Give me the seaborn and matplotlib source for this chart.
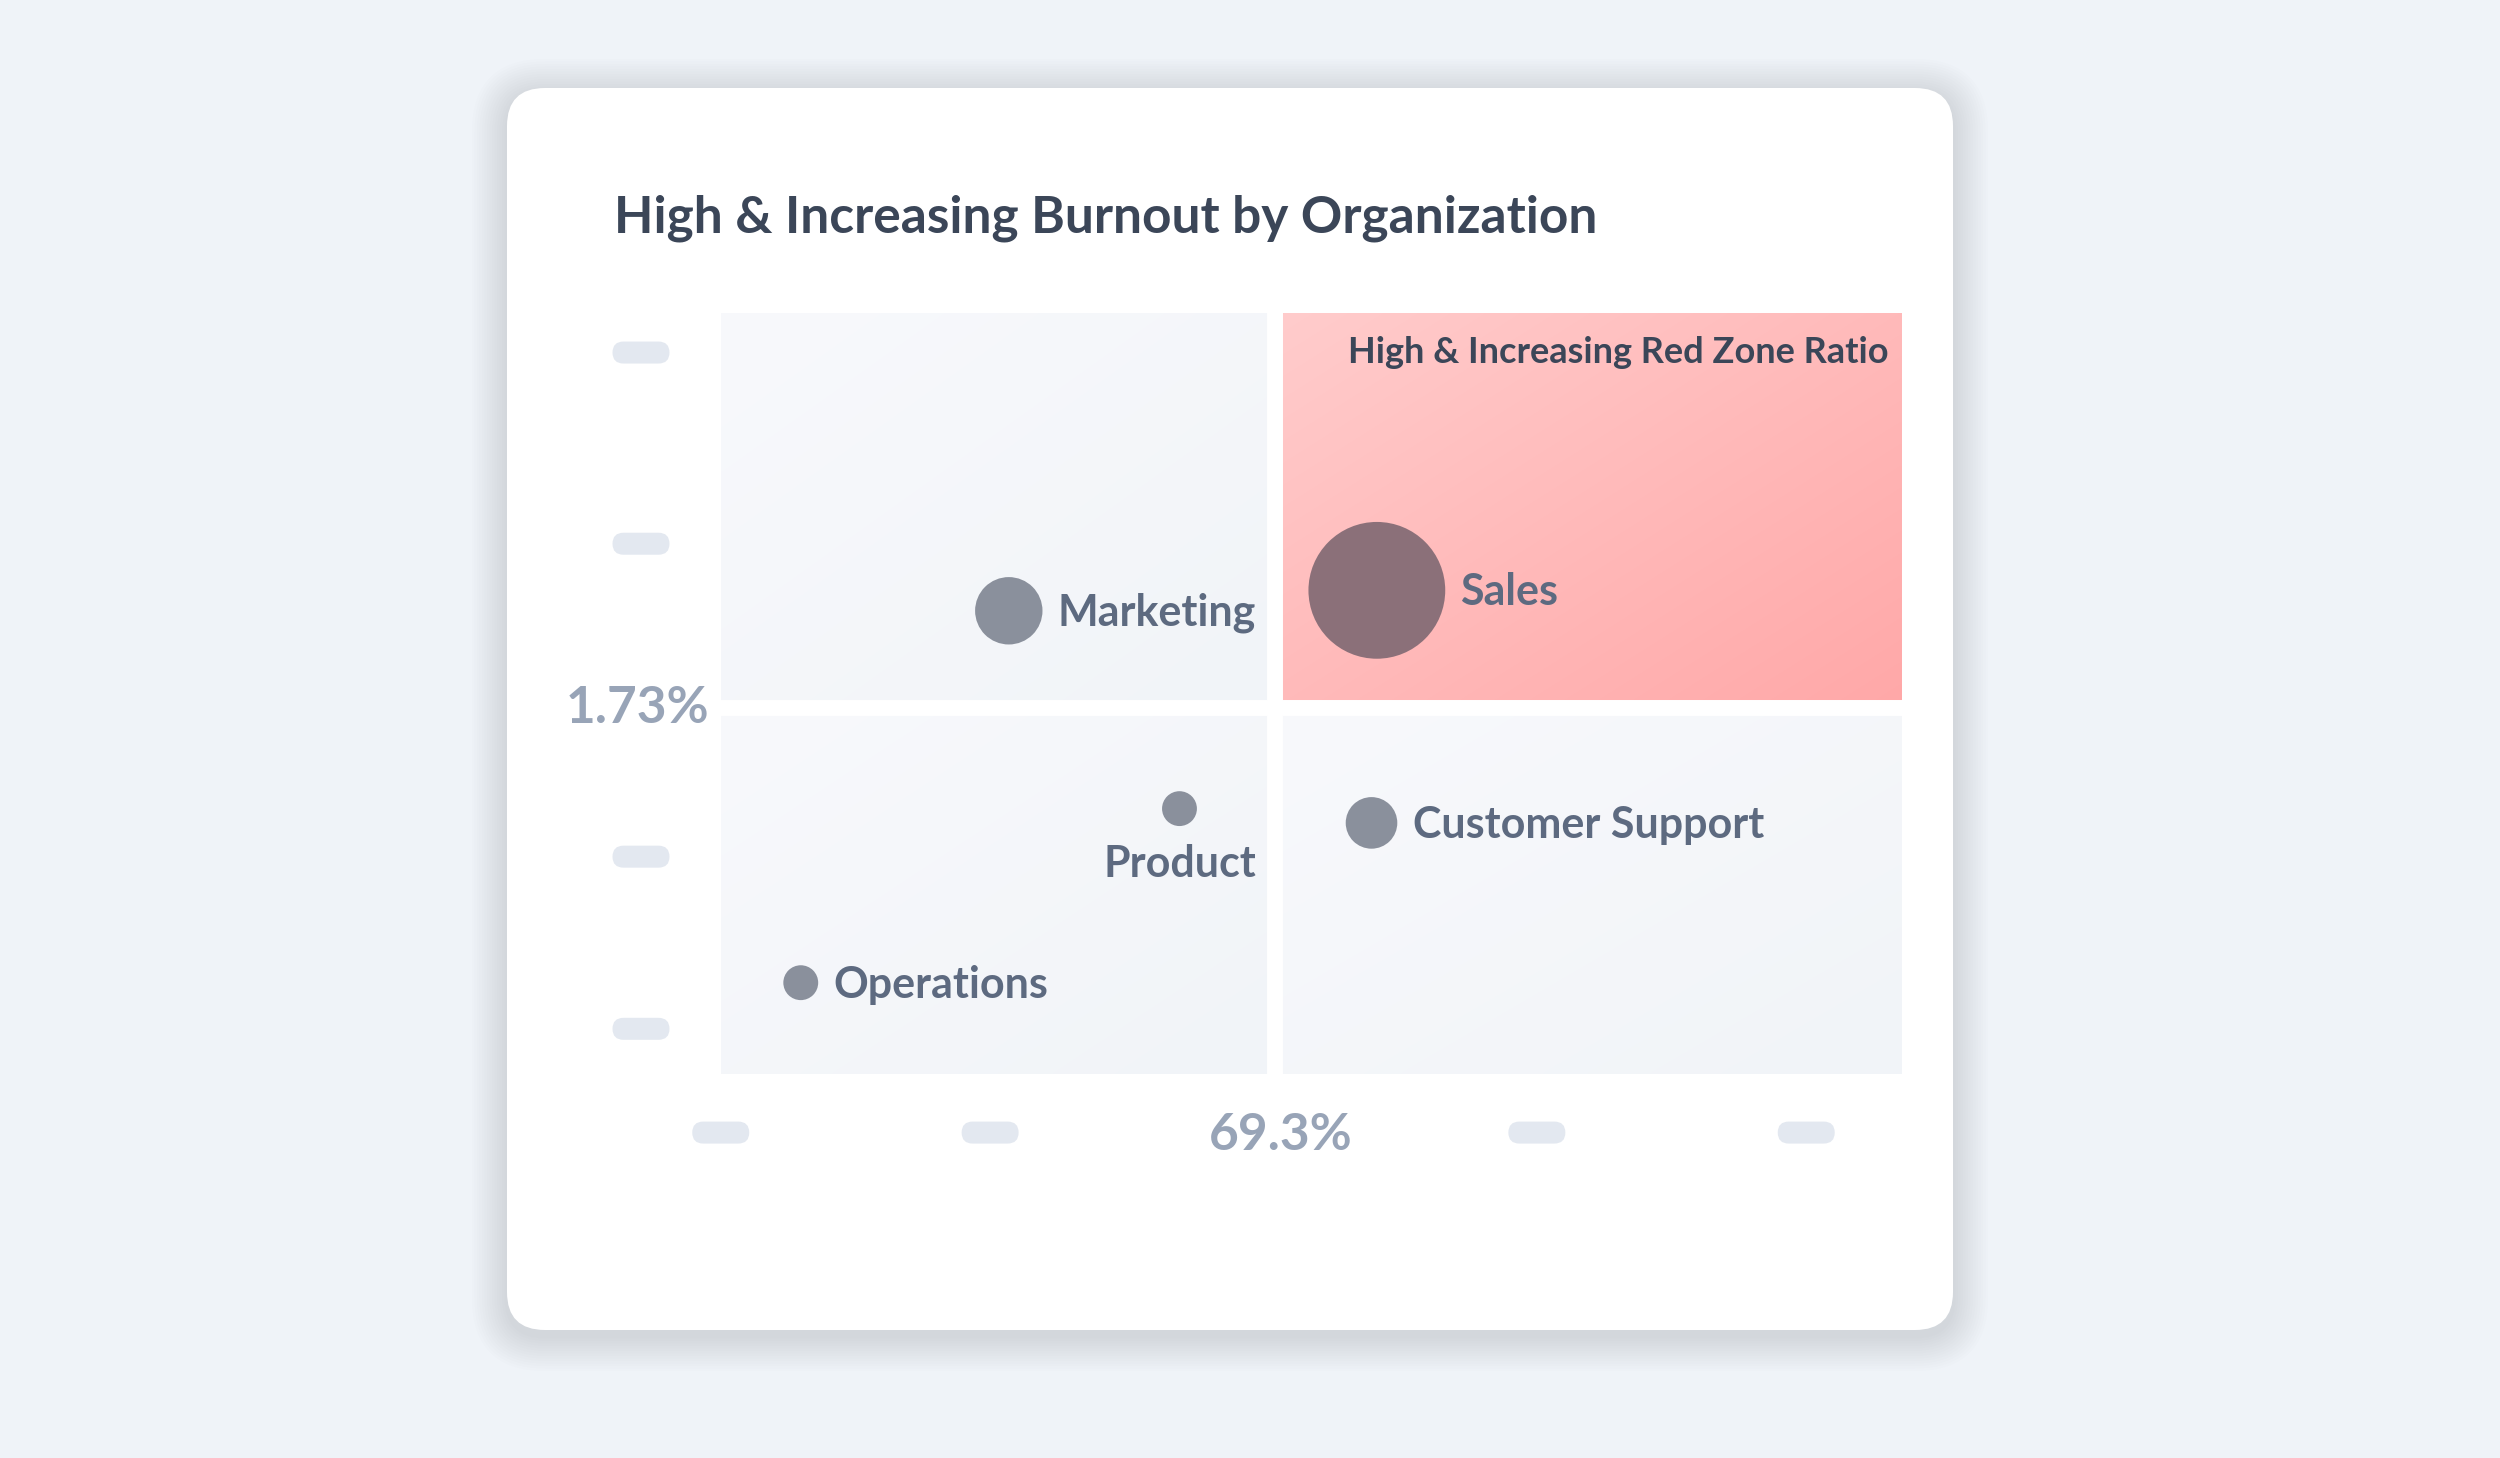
import numpy as np
import pandas as pd
import matplotlib
matplotlib.use("Agg")
import matplotlib.pyplot as plt
import seaborn as sns
from matplotlib.patches import FancyBboxPatch
from matplotlib.transforms import IdentityTransform
from matplotlib.colors import LinearSegmentedColormap

# data
orgs = ["Marketing", "Sales", "Product", "Customer Support", "Operations"]
red_zone_pct = [59.3, 73.1, 65.7, 72.9, 51.5]      # x, % in red zone
red_zone_trend = [1.935, 1.978, 1.519, 1.489, 1.153]  # y, % increase
headcount = [160, 650, 45, 95, 45]                  # bubble size
label_side = ["right", "right", "below", "right", "right"]

x_mid = 69.3
y_mid = 1.73
x_ticks = [48.5, 58.6, 79.1, 89.2]
y_ticks = [2.478, 2.076, 1.418, 1.056]
xlim = (48.5, 92.8)
ylim = (0.962, 2.562)

title = "High & Increasing Burnout by Organization"
zone_label = "High & Increasing Red Zone Ratio"

BG = "#eff3f8"
TITLE_C = "#3b4658"
LABEL_C = "#5d6a80"
AXIS_C = "#98a4b7"
PILL_C = "#e3e8f0"
DOT_C = "#8a909c"
SALES_C = "#8b7079"

sns.set_theme(style="white")
plt.rcParams["font.family"] = ["Lato", "DejaVu Sans"]

W, H = 2500, 1458
fig = plt.figure(figsize=(W / 100, H / 100), dpi=100, facecolor=BG)

# card with a soft shadow (pixel coords)
cx0, cy0, cx1, cy1 = 507, 128, 1953, 1370  # y measured from bottom
for i in range(14, 0, -1):
    sh = FancyBboxPatch((cx0 - i * 2.5, cy0 - i * 2.5 - 6), (cx1 - cx0) + i * 5, (cy1 - cy0) + i * 5,
                        boxstyle=f"round,pad=0,rounding_size={38 + i * 2.5}",
                        transform=IdentityTransform(), fc="#8d97a6", ec="none", alpha=0.02, zorder=-10)
    fig.patches.append(sh)
card = FancyBboxPatch((cx0, cy0), cx1 - cx0, cy1 - cy0, boxstyle="round,pad=0,rounding_size=38",
                      transform=IdentityTransform(), fc="white", ec="none", zorder=-9)
fig.patches.append(card)

ax = fig.add_axes([0.2883, 0.2637, 0.4726, 0.5219])
ax.set_xlim(xlim)
ax.set_ylim(ylim)
ax.set_facecolor("none")

# quadrant fills with gentle gradients
gx, gy = np.meshgrid(np.linspace(0, 1, 200), np.linspace(0, 1, 200))
grad = (gx + gy) / 2
grey_cmap = LinearSegmentedColormap.from_list("g", ["#f8f9fc", "#f1f4f8"])
red_cmap = LinearSegmentedColormap.from_list("r", ["#ffcccc", "#ffa8a8"])
quads = [
    (xlim[0], x_mid, y_mid, ylim[1], grey_cmap),
    (x_mid, xlim[1], y_mid, ylim[1], red_cmap),
    (xlim[0], x_mid, ylim[0], y_mid, grey_cmap),
    (x_mid, xlim[1], ylim[0], y_mid, grey_cmap),
]
for x0, x1, y0, y1, cm in quads:
    ax.imshow(grad, extent=(x0, x1, y0, y1), origin="upper", cmap=cm, aspect="auto",
              interpolation="bicubic", zorder=0)
ax.set_xlim(xlim)
ax.set_ylim(ylim)
ax.axvline(x_mid, color="white", lw=11.5, zorder=1)
ax.axhline(y_mid, color="white", lw=11.5, zorder=1)

df = pd.DataFrame({"org": orgs, "x": red_zone_pct, "y": red_zone_trend, "hc": headcount})
smin, smax = 630, 9700
vmin, vmax = min(headcount), max(headcount)
palette = {o: (SALES_C if o == "Sales" else DOT_C) for o in orgs}
sns.scatterplot(data=df, x="x", y="y", hue="org", palette=palette, size="hc",
                sizes=(smin, smax), size_norm=(vmin, vmax), legend=False,
                linewidth=0, alpha=1, ax=ax, zorder=3)

for o, x, y, v, side in zip(orgs, red_zone_pct, red_zone_trend, headcount, label_side):
    area = smin + (v - vmin) / (vmax - vmin) * (smax - smin)
    r = np.sqrt(area) / 2
    if side == "right":
        ax.annotate(o, (x, y), xytext=(r + 11, -1.5), textcoords="offset points",
                    ha="left", va="center", fontsize=31, fontweight="bold", color=LABEL_C, zorder=4)
    else:
        ax.annotate(o, (x, y), xytext=(0, -(r + 27)), textcoords="offset points",
                    ha="center", va="center", fontsize=31, fontweight="bold", color=LABEL_C, zorder=4)

ax.text(0.988, 0.948, zone_label, transform=ax.transAxes, ha="right", va="center",
        fontsize=26, fontweight="bold", color=TITLE_C, zorder=4)

ax.set_xticks([])
ax.set_yticks([])
ax.set_xlabel("")
ax.set_ylabel("")
sns.despine(ax=ax, left=True, bottom=True)

# mid-point labels
ax.text(-0.01, y_mid, f"{y_mid}%", transform=ax.get_yaxis_transform(), ha="right", va="center",
        fontsize=37, fontweight="bold", color=AXIS_C)
ax.text(x_mid + 0.2, -0.081, f"{x_mid}%", transform=ax.get_xaxis_transform(), ha="center", va="center",
        fontsize=37, fontweight="bold", color=AXIS_C)

# placeholder pills for the hidden tick labels
pw, ph = 57, 22


def pill(px, py):
    p = FancyBboxPatch((px - pw / 2, py - ph / 2), pw, ph, boxstyle=f"round,pad=0,rounding_size={ph / 2}",
                       transform=IdentityTransform(), fc=PILL_C, ec="none", zorder=-8)
    fig.patches.append(p)


for t in x_ticks:
    px, _ = ax.transData.transform((t, ylim[0]))
    _, py = ax.transAxes.transform((0, -0.0776))
    pill(px, py)
for t in y_ticks:
    _, py = ax.transData.transform((xlim[0], t))
    px, _ = ax.transAxes.transform((-0.0675, 0))
    pill(px, py)

fig.text(385 / 1568, 1 - 137 / 914, title, ha="left", va="center", fontsize=37,
         fontweight="bold", color=TITLE_C)

fig.savefig("out.png", dpi=100, facecolor=BG)
